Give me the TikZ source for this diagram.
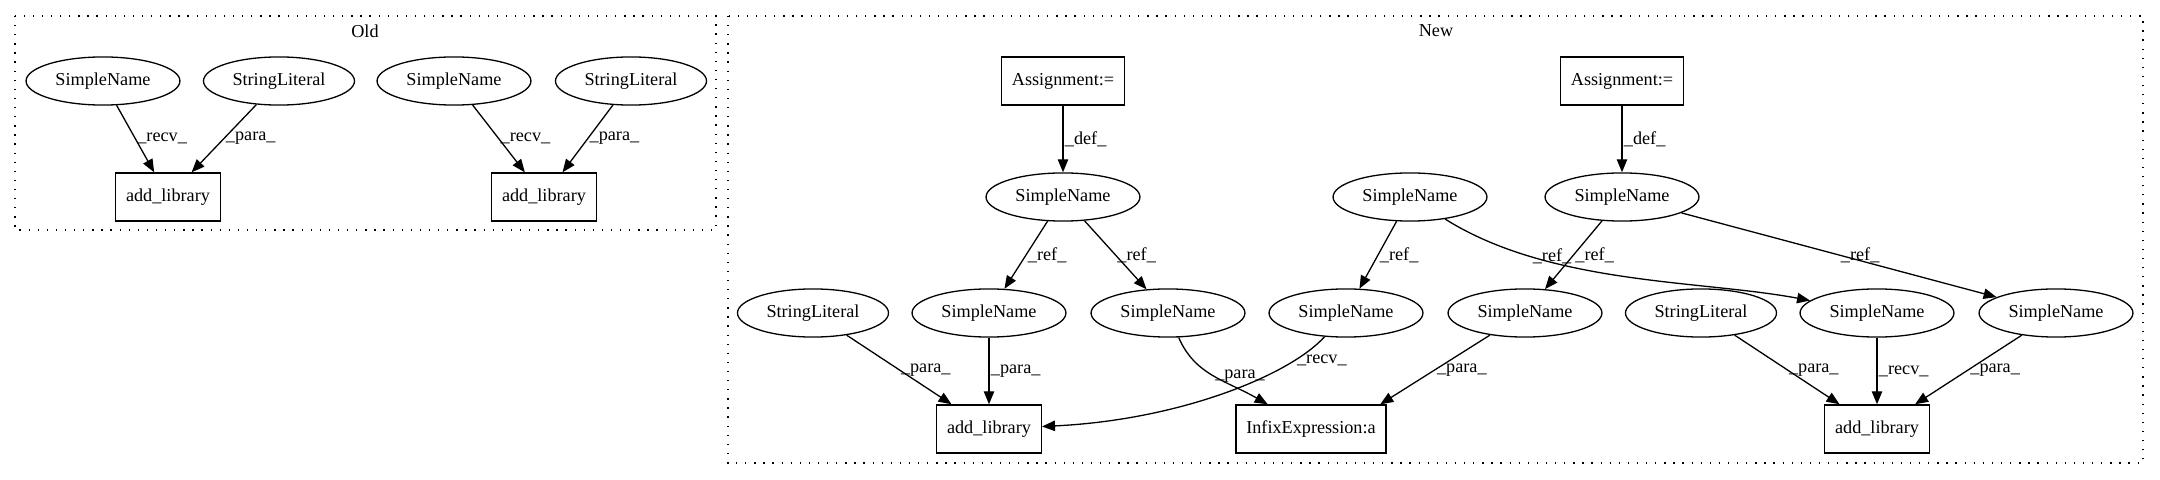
\documentclass[tikz,border=0pt]{standalone}
\usepackage{fontspec}
\setmainfont{Liberation Serif}
\usetikzlibrary{arrows.meta,shapes.geometric}

\begin{document}
\begin{tikzpicture}[x=0.7692pt, y=-0.7692pt,
    font=\fontsize{14}{16}\selectfont,
    leaf/.style={ellipse, draw, line width=1pt, inner xsep=5.3pt, minimum height=37pt},
    stmt/.style={rectangle, draw, line width=1pt, inner xsep=8pt, minimum height=37pt},
    flow/.style={-{Triangle[length=10pt, width=8pt]}, line width=1pt},
    lbl/.style={midway, anchor=west, inner sep=1pt},
    clusterbox/.style={line width=1pt, dash pattern=on 1pt off 6pt}]
  \useasboundingbox (0,0) rectangle (2160,480);

  % old version
  \draw[clusterbox] (15,16) rectangle (716,230);
  \node (oldlabel) at (365,31) {Old};
  \node[leaf] (o1) at (103,81) {SimpleName};
  \node[leaf] (o2) at (279,81) {StringLiteral};
  \node[leaf] (o3) at (454,81) {SimpleName};
  \node[leaf] (o4) at (631,81) {StringLiteral};
  \node[stmt] (oa) at (168,197) {add\_library};
  \node[stmt] (ob) at (544,197) {add\_library};
  \draw[flow] (o1) -- node[lbl] {\_recv\_} (oa);
  \draw[flow] (o2) -- node[lbl] {\_para\_} (oa);
  \draw[flow] (o3) -- node[lbl] {\_recv\_} (ob);
  \draw[flow] (o4) -- node[lbl] {\_para\_} (ob);

  % new version
  \draw[clusterbox] (728,16) rectangle (2143,463);
  \node (newlabel) at (1436,31) {New};
  \node[stmt] (asg1) at (1063,81) {Assignment:=};
  \node[stmt] (asg2) at (1622,81) {Assignment:=};
  \node[leaf] (na) at (1063,197) {SimpleName};
  \node[leaf] (nb) at (1410,197) {SimpleName};
  \node[leaf] (nc) at (1622,197) {SimpleName};
  \foreach \n/\x/\t in {sl3/813/StringLiteral, n4/989/SimpleName, n5/1168/SimpleName,
      n6/1346/SimpleName, n7/1525/SimpleName, sl4/1701/StringLiteral,
      n8/1877/SimpleName, n9/2056/SimpleName}{
    \node[leaf] (\n) at (\x,313) {\t};
  }
  \node[stmt] (al3) at (989,429) {add\_library};
  \node[stmt] (infix) at (1311,429) {InfixExpression:a};
  \node[stmt] (al4) at (1877,429) {add\_library};

  \draw[flow] (asg1) -- node[lbl] {\_def\_} (na);
  \draw[flow] (asg2) -- node[lbl] {\_def\_} (nc);
  \draw[flow] (na) -- node[lbl] {\_ref\_} (n4);
  \draw[flow] (na) -- node[lbl] {\_ref\_} (n5);
  \draw[flow] (nb) -- node[lbl] {\_ref\_} (n6);
  \draw[flow] (nb) .. controls (1550,285) and (1700,280) .. node[lbl, pos=0.25] {\_ref\_} (n8);
  \draw[flow] (nc) -- node[lbl] {\_ref\_} (n7);
  \draw[flow] (nc) -- node[lbl] {\_ref\_} (n9);
  \draw[flow] (sl3) -- node[lbl] {\_para\_} (al3);
  \draw[flow] (n4) -- node[lbl] {\_para\_} (al3);
  \draw[flow] (n5) .. controls (1195,375) and (1225,380) .. node[lbl] {\_para\_} (infix);
  \draw[flow] (n6) .. controls (1290,375) and (1180,420) .. node[lbl, pos=0.2] {\_recv\_} (al3);
  \draw[flow] (n7) -- node[lbl] {\_para\_} ([xshift=-5pt]infix.north east);
  \draw[flow] (sl4) -- node[lbl] {\_para\_} (al4);
  \draw[flow] (n8) -- node[lbl] {\_recv\_} (al4);
  \draw[flow] (n9) -- node[lbl] {\_para\_} (al4);
\end{tikzpicture}
\end{document}
